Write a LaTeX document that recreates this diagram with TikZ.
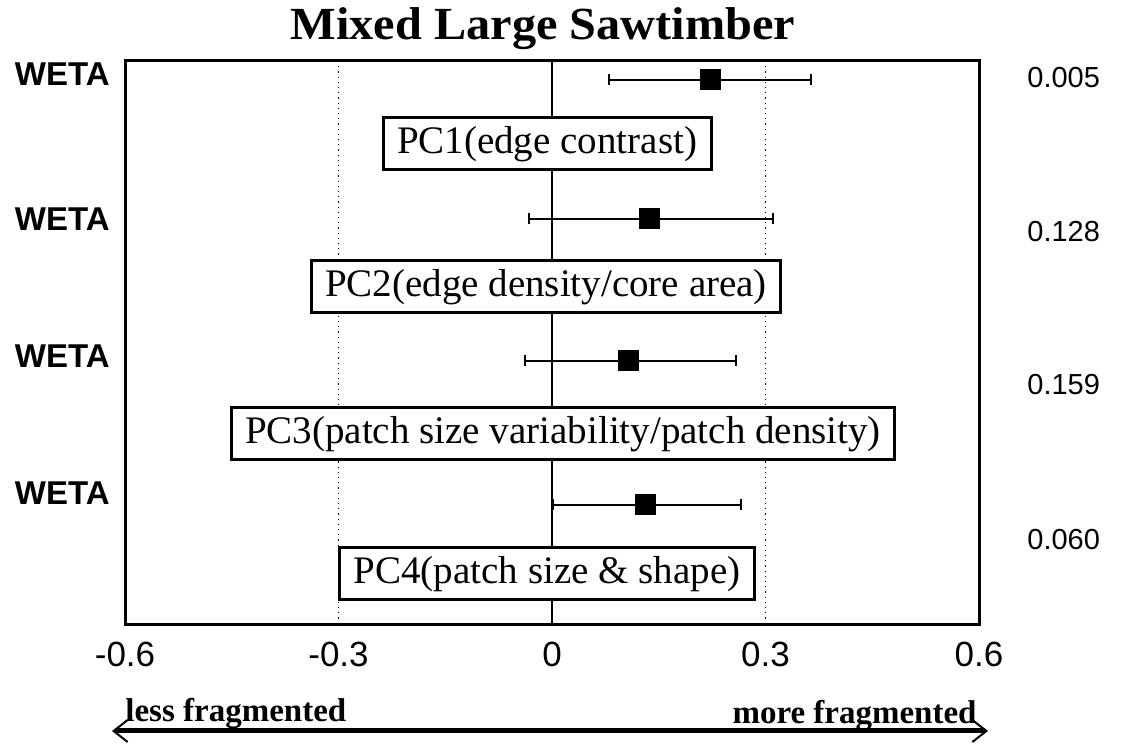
\documentclass[tikz,border=0pt]{standalone}
\usepackage{fontspec}
\setmainfont{Liberation Serif}
\newfontfamily\arialfont{Liberation Sans}
\usetikzlibrary{positioning}
\usetikzlibrary{arrows.meta}
\pgfdeclarelayer{edgelayer}
\pgfsetlayers{edgelayer,main}
\tikzset{
    none/.style = {inner sep=0pt},
    pcbox/.style = {draw, line width=1.5pt, fill=white, inner xsep=7pt, inner ysep=0pt,
        minimum height=26pt, font=\fontsize{19.5}{22}\selectfont},
    weta/.style = {inner sep=0pt, anchor=base east, font=\arialfont\bfseries\fontsize{16.5}{19}\selectfont},
    pval/.style = {inner sep=0pt, anchor=base west, font=\arialfont\fontsize{14.5}{17}\selectfont},
    ticklab/.style = {inner sep=0pt, anchor=base, font=\arialfont\fontsize{17.5}{20}\selectfont},
    sqmark/.style = {fill=black, minimum size=10.5pt, inner sep=0pt},
    whisker/.style = {line width=0.8pt, {Bar[width=5.5pt]}-{Bar[width=5.5pt]}},
    fraglab/.style = {inner sep=0pt, font=\bfseries\fontsize{16.5}{19}\selectfont}
}

\begin{document}
\begin{tikzpicture}[x=0.5pt, y=-0.5pt]
    \useasboundingbox (0, 0) rectangle (1121, 748);
    \begin{pgfonlayer}{edgelayer}
        % frame and reference lines
        \draw[line width=1.5pt] (125, 61) rectangle (979, 625);
        \draw[line width=1.2pt] (552, 61) -- (552, 625);
        \draw[line width=0.6pt, dotted] (338.5, 61) -- (338.5, 625);
        \draw[line width=0.6pt, dotted] (765.5, 61) -- (765.5, 625);
    \end{pgfonlayer}
    % title
    \node [style=none, anchor=base, xscale=1.05, font=\bfseries\fontsize{23}{27}\selectfont] (title) at (543, 40) {Mixed Large Sawtimber};
    % whisker ends and means
    \node [style=none] (r1l) at (608, 80) {};
    \node [style=none] (r1r) at (812, 80) {};
    \node [style=none] (r2l) at (528, 219) {};
    \node [style=none] (r2r) at (774, 219) {};
    \node [style=none] (r3l) at (524, 361) {};
    \node [style=none] (r3r) at (737, 361) {};
    \node [style=none] (r4l) at (552, 505) {};
    \node [style=none] (r4r) at (742, 505) {};
    \draw[whisker] (r1l.center) to (r1r.center);
    \draw[whisker] (r2l.center) to (r2r.center);
    \draw[whisker] (r3l.center) to (r3r.center);
    \draw[whisker] (r4l.center) to (r4r.center);
    \node [style=sqmark] (r1m) at (710, 80) {};
    \node [style=sqmark] (r2m) at (649, 219) {};
    \node [style=sqmark] (r3m) at (628, 361) {};
    \node [style=sqmark] (r4m) at (645, 505) {};
    % component labels
    \node [style=pcbox] (pc1) at (547, 144) {PC1(edge contrast)};
    \node [style=pcbox] (pc2) at (546, 287) {PC2(edge density/core area)};
    \node [style=pcbox] (pc3) at (563, 434) {PC3(patch size variability/patch density)};
    \node [style=pcbox] (pc4) at (547, 574) {PC4(patch size \& shape)};
    % left and right labels
    \node [style=weta] (w1) at (110, 86) {WETA};
    \node [style=weta] (w2) at (110, 231) {WETA};
    \node [style=weta] (w3) at (110, 368) {WETA};
    \node [style=weta] (w4) at (110, 505) {WETA};
    \node [style=pval] (p1) at (1027, 88) {0.005};
    \node [style=pval] (p2) at (1027, 242) {0.128};
    \node [style=pval] (p3) at (1027, 395) {0.159};
    \node [style=pval] (p4) at (1027, 550) {0.060};
    % axis labels
    \node [style=ticklab] (t1) at (125, 667) {-0.6};
    \node [style=ticklab] (t2) at (338.5, 667) {-0.3};
    \node [style=ticklab] (t3) at (552, 667) {0};
    \node [style=ticklab] (t4) at (765.5, 667) {0.3};
    \node [style=ticklab] (t5) at (979, 667) {0.6};
    % fragmentation arrow
    \coordinate (aleft) at (112, 731);
    \coordinate (aright) at (988, 731);
    \draw[line width=2.5pt, {Straight Barb[length=7pt, width=11pt, line width=1pt]}-{Straight Barb[length=7pt, width=11pt, line width=1pt]}] (aleft) -- (aright);
    \node [style=fraglab, anchor=base west] (less) at (125, 722) {less fragmented};
    \node [style=fraglab, anchor=base east] (more) at (977, 724) {more fragmented};
\end{tikzpicture}
\end{document}
